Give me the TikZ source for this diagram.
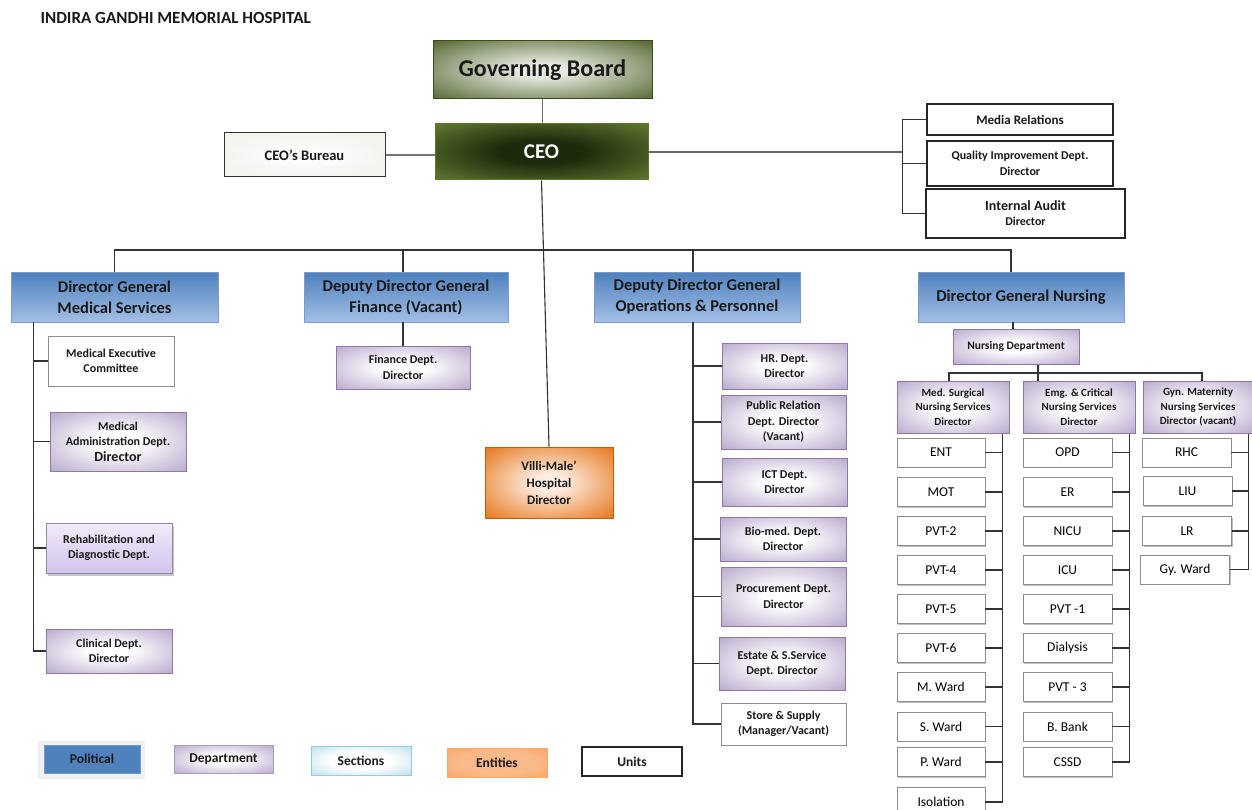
\documentclass[tikz,border=0pt]{standalone}
\usepackage{fontspec}
\setmainfont{Carlito}
\usetikzlibrary{shadows}

\definecolor{gbdark}{HTML}{4A5E24}
\definecolor{gblight}{HTML}{E6E9E0}
\definecolor{ceogreen}{HTML}{77933C}
\definecolor{ceodark}{HTML}{1D2A0C}
\definecolor{polblue}{HTML}{4F81BD}
\definecolor{polpale}{HTML}{A3BFE6}
\definecolor{poledge}{HTML}{7B9CCB}
\definecolor{deptpurple}{HTML}{AE9CC5}
\definecolor{deptedge}{HTML}{8B79A9}
\definecolor{rehabtop}{HTML}{F1EBFA}
\definecolor{rehabbot}{HTML}{D3C4EC}
\definecolor{entorange}{HTML}{E46C0A}
\definecolor{entpale}{HTML}{FDECDF}
\definecolor{legorange}{HTML}{F79646}
\definecolor{legpale}{HTML}{FAB989}
\definecolor{seccyan}{HTML}{93CDDD}
\definecolor{unitgray}{HTML}{8C8C8C}
\definecolor{inktext}{HTML}{1A1A1A}

\pgfdeclareradialshading{boardglow}{\pgfpoint{0bp}{0bp}}{color(0bp)=(gblight); color(6bp)=(gblight); color(38bp)=(gbdark); color(72bp)=(gbdark)}
\pgfdeclareradialshading{ceoglow}{\pgfpoint{0bp}{0bp}}{color(0bp)=(ceodark); color(10bp)=(ceodark); color(44bp)=(ceogreen); color(72bp)=(ceogreen)}
\pgfdeclareradialshading{deptglow}{\pgfpoint{0bp}{0bp}}{color(0bp)=(white); color(8bp)=(white); color(40bp)=(deptpurple); color(72bp)=(deptpurple)}
\pgfdeclareradialshading{entglow}{\pgfpoint{0bp}{0bp}}{color(0bp)=(entpale); color(6bp)=(entpale); color(38bp)=(entorange); color(72bp)=(entorange)}
\pgfdeclareradialshading{legentglow}{\pgfpoint{0bp}{0bp}}{color(0bp)=(legpale); color(20bp)=(legpale); color(50bp)=(legorange); color(72bp)=(legorange)}
\pgfdeclareradialshading{secglow}{\pgfpoint{0bp}{0bp}}{color(0bp)=(white); color(15bp)=(white); color(50bp)=(seccyan); color(72bp)=(seccyan)}

\tikzset{
  sz/.style 2 args={minimum width=#1pt, minimum height=#2pt},
  box/.style={rectangle, inner sep=0pt, align=center, text=inktext,
    font=\bfseries\fontsize{12}{15.5}\selectfont},
  board/.style={box, draw=gbdark!80!black, line width=1pt, shade, shading=boardglow,
    font=\bfseries\fontsize{24}{28}\selectfont},
  chief/.style={box, draw=ceogreen!80!black, line width=1pt, shade, shading=ceoglow,
    text=white, font=\bfseries\fontsize{21}{24}\selectfont},
  political/.style={box, draw=poledge, line width=0.8pt, top color=polblue, bottom color=polpale,
    font=\bfseries\fontsize{16.5}{21}\selectfont},
  dept/.style={box, draw=deptedge, line width=1pt, shade, shading=deptglow},
  entity/.style={box, draw=entorange!85!black, line width=1pt, shade, shading=entglow,
    font=\bfseries\fontsize{13}{17}\selectfont},
  unitbox/.style={box, draw=black!85, line width=1.2pt, fill=white},
  plainbox/.style={box, draw=unitgray, line width=0.9pt, fill=white},
  ward/.style={box, draw=unitgray, line width=0.9pt, fill=white, text=black,
    font=\fontsize{13.5}{16}\selectfont, sz={88}{29},
    general shadow={shadow xshift=1pt, shadow yshift=-1pt, fill=black!25}},
  link/.style={draw=black!80, line width=1.1pt}
}

\begin{document}
\begin{tikzpicture}[x=1pt, y=-1pt]
  \useasboundingbox (0,0) rectangle (1252,810);

  \node[anchor=west, text=inktext, font=\bfseries\fontsize{17}{20}\selectfont] (title) at (37,18) {INDIRA GANDHI MEMORIAL HOSPITAL};

  \node[board, sz={219}{58}] (gb) at (542.5,70) {Governing Board};
  \node[chief, sz={213}{56}] (ceo) at (541.5,152) {CEO};
  \node[unitbox, sz={161}{44}, draw=black!80, line width=1pt, inner color=white, outer color=gblight!45,
    font=\bfseries\fontsize{14.5}{17}\selectfont] (bureau) at (304.5,155) {CEO’s Bureau};

  \node[unitbox, sz={186}{31}, font=\bfseries\fontsize{13}{16}\selectfont] (media) at (1020,119.5) {Media Relations};
  \node[unitbox, sz={186}{45}, font=\bfseries\fontsize{12}{16.5}\selectfont] (quality) at (1020,163.5) {Quality Improvement Dept.\\Director};
  \node[unitbox, sz={199}{49}, line width=1.5pt, font=\bfseries\fontsize{14}{15}\selectfont] (audit) at (1025.5,213.5)
    {Internal Audit\\{\fontsize{12}{14}\selectfont Director}};

  \node[political, sz={207}{50}] (dgms) at (114.5,297) {Director General\\Medical Services};
  \node[political, sz={204}{50}] (dgf) at (406,297) {Deputy Director General\\Finance (Vacant)};
  \node[political, sz={206}{50}] (dgo) at (697,297) {Deputy Director General\\Operations \& Personnel};
  \node[political, sz={206}{50}] (dgn) at (1021,297) {Director General Nursing};

  \node[plainbox, sz={126}{50}] (mec) at (111,361) {Medical Executive\\Committee};
  \node[dept, sz={136}{59}] (madm) at (118,441.5) {Medical\\Administration Dept.\\{\fontsize{14}{17}\selectfont Director}};
  \node[box, sz={126}{50}, draw=rehabbot!70!black, line width=1pt, top color=rehabtop, bottom color=rehabbot,
    drop shadow={shadow xshift=1.5pt, shadow yshift=-2.5pt, fill=black!45}] (rehab) at (109,548) {Rehabilitation and\\Diagnostic Dept.};
  \node[dept, sz={126}{44}] (clin) at (109,651) {Clinical Dept.\\Director};

  \node[dept, sz={134}{43}] (fin) at (403,367.5) {Finance Dept.\\Director};
  \node[entity, sz={128}{71}] (villi) at (549,482.5) {Villi-Male’\\Hospital\\Director};

  \node[dept, sz={125}{46}] (hr) at (784.5,366) {HR. Dept.\\Director};
  \node[dept, sz={125}{54}] (pr) at (783.5,422) {Public Relation\\Dept. Director\\(Vacant)};
  \node[dept, sz={125}{48}] (ict) at (784.5,482) {ICT Dept.\\Director};
  \node[dept, sz={126}{44}] (bio) at (783,539) {Bio-med. Dept.\\Director};
  \node[dept, sz={125}{59}] (proc) at (783.5,596.5) {Procurement Dept.\\Director};
  \node[dept, sz={126}{53}] (estate) at (782,663.5) {Estate \& S.Service\\Dept. Director};
  \node[plainbox, sz={125}{42}] (store) at (783.5,724) {Store \& Supply\\(Manager/Vacant)};

  \node[dept, sz={126}{35}, font=\bfseries\fontsize{11.5}{14}\selectfont] (ndept) at (1016,346.5) {Nursing Department};
  \node[dept, sz={112}{52}, font=\bfseries\fontsize{11}{14.5}\selectfont] (med) at (953,407) {Med. Surgical\\Nursing Services\\Director};
  \node[dept, sz={112}{52}, font=\bfseries\fontsize{11}{14.5}\selectfont] (emg) at (1079,407) {Emg. \& Critical\\Nursing Services\\Director};
  \node[dept, sz={110}{52}, font=\bfseries\fontsize{11}{14.5}\selectfont] (gyn) at (1198,407) {Gyn. Maternity\\Nursing Services\\Director (vacant)};

  \foreach \lbl/\yy [count=\i] in {ENT/452.5, MOT/492, PVT-2/531, PVT-4/570, PVT-5/609, PVT-6/648, M. Ward/687, S. Ward/726.5, P. Ward/762, Isolation/802}
    \node[ward] (ms\i) at (941,\yy) {\lbl};
  \foreach \lbl/\yy [count=\i] in {OPD/452.5, ER/492, NICU/531, ICU/570, PVT -1/609, Dialysis/648, PVT - 3/687, B. Bank/726.5, CSSD/762}
    \node[ward, sz={89}{29}] (ec\i) at (1067.5,\yy) {\lbl};
  \foreach \lbl/\yy/\xx [count=\i] in {RHC/452.5/1186.5, LIU/491/1187.5, LR/531/1187, Gy. Ward/569.5/1185}
    \node[ward, sz={89}{29}] (gy\i) at (\xx,\yy) {\lbl};

  \fill[black!6] (38,741) rectangle (145,779);
  \node[box, sz={96}{28}, fill=polblue, draw=polblue!80!white, font=\bfseries\fontsize{13.5}{16}\selectfont] (lpol) at (92,759) {Political};
  \node[dept, sz={99}{28}, draw=deptpurple, font=\bfseries\fontsize{13.5}{16}\selectfont] (ldept) at (223.5,759) {Department};
  \node[box, sz={100}{29}, draw=seccyan, line width=1pt, shade, shading=secglow, font=\bfseries\fontsize{13.5}{16}\selectfont] (lsec) at (361,760.5) {Sections};
  \node[box, sz={100}{29}, draw=legorange!80!white, line width=1pt, shade, shading=legentglow, font=\bfseries\fontsize{13.5}{16}\selectfont] (lent) at (497,762.5) {Entities};
  \node[box, sz={100}{29}, draw=black!85, line width=2pt, fill=white, font=\bfseries\fontsize{13.5}{16}\selectfont] (lunit) at (632,761.5) {Units};

  \coordinate (bus) at (542,250);
  \coordinate (qspine) at ([xshift=-24pt]quality.west |- ceo.east);
  \coordinate (msspine) at ([xshift=23pt]dgms.south west);
  \coordinate (opspine) at ([xshift=-4pt]dgo.south);
  \coordinate (nbus) at (1038,373);
  \coordinate (mspine) at ([xshift=-7pt]med.south east);
  \coordinate (espine) at ([xshift=-6pt]emg.south east);
  \coordinate (gspine) at ([xshift=-5pt]gyn.south east);

  \draw[link, draw=black!55] (gb.south) -- (gb.south |- ceo.north);
  \draw[link, draw=black!55] (bureau.east) -- (bureau.east -| ceo.west);
  \draw[link, draw=black!60] (ceo.east) -- (qspine);
  \draw[link] (media.west) -| (qspine) |- (audit.west);
  \draw[link] (quality.west) -- (quality.west -| qspine);

  \draw[link] (dgms.north) |- (bus) -| ([xshift=-10pt]dgn.north);
  \draw[link] ([xshift=-3pt]dgf.north) -- ([xshift=-3pt]dgf.north |- bus);
  \draw[link] ([xshift=-4pt]dgo.north) -- ([xshift=-4pt]dgo.north |- bus);
  \draw[link] (ceo.south) -- (villi.north);

  \draw[link] (msspine) |- (clin.west);
  \foreach \n in {mec,madm,rehab}
    \draw[link] (\n.west) -- (\n.west -| msspine);
  \draw[link] ([xshift=-3pt]dgf.south) -- ([xshift=-3pt]dgf.south |- fin.north);

  \draw[link] (opspine) |- (store.west);
  \foreach \n in {hr,pr,ict,bio,proc,estate}
    \draw[link] (\n.west) -- (\n.west -| opspine);

  \draw[link] ([xshift=-8pt]dgn.south) -- ([xshift=-8pt]dgn.south |- ndept.north);
  \draw[link] (nbus |- ndept.south) -- (nbus |- emg.north);
  \draw[link] ([xshift=-4pt]med.north) |- (nbus) -| ([xshift=4pt]gyn.north);

  \draw[link] (mspine) |- (ms10.east);
  \foreach \i in {1,...,9}
    \draw[link] (ms\i.east) -- (ms\i.east -| mspine);
  \draw[link] (espine) |- (ec9.east);
  \foreach \i in {1,...,8}
    \draw[link] (ec\i.east) -- (ec\i.east -| espine);
  \draw[link] (gspine) |- (gy4.east);
  \foreach \i in {1,2,3}
    \draw[link] (gy\i.east) -- (gy\i.east -| gspine);
\end{tikzpicture}
\end{document}
